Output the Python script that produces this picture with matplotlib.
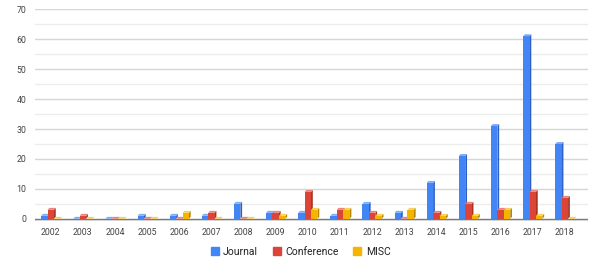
import matplotlib.pyplot as plt
from matplotlib.patches import Polygon
from matplotlib.lines import Line2D

years = [str(y) for y in range(2002, 2019)]
journal = [1, 0, 0, 1, 1, 1, 5, 2, 2, 1, 5, 2, 12, 21, 31, 61, 25]
conference = [3, 1, 0, 0, 0, 2, 0, 2, 9, 3, 2, 0, 2, 5, 3, 9, 7]
misc = [0, 0, 0, 0, 2, 0, 0, 1, 3, 3, 1, 3, 1, 1, 3, 1, 0]

series = [
    ("Journal", journal, "#4285F4", "#7FAAF7", "#2F5FC4"),
    ("Conference", conference, "#DB4437", "#E8847A", "#A8311F"),
    ("MISC", misc, "#F4B400", "#F8CF5A", "#B58600"),
]

plt.rcParams['font.family'] = ['Roboto', 'DejaVu Sans']

fig = plt.figure(figsize=(6, 2.63), dpi=100)
ax = fig.add_axes([34.7 / 600, 1 - 221.2 / 263, (588 - 34.7) / 600, (221.2 - 9.3) / 263])

ax.set_xlim(-0.5, 16.72)
ax.set_ylim(-0.8, 70)

# grid: darker every 10, lighter every 5
for v in range(5, 71, 5):
    ax.axhline(v, color="#d6d6d6" if v % 10 == 0 else "#ececec", lw=1, zorder=0)
ax.axhspan(-0.8, 0, color="#ebebeb", lw=0, zorder=0)
ax.axhline(0, color="#7a7a7a", lw=1, zorder=1)

w = 0.2
dx, dy = 0.055, 0.65
offsets = [-0.2, 0.0, 0.2]

for k, (name, vals, front, top, side) in enumerate(series):
    bars = ax.bar([i + offsets[k] for i in range(len(years))], vals, width=w,
                  color=front, lw=0, zorder=3 + 3 * k)
    for b in bars:
        x0 = b.get_x()
        x1 = x0 + b.get_width()
        h = b.get_height()
        ax.add_patch(Polygon([(x1, 0), (x1 + dx, dy), (x1 + dx, h + dy), (x1, h)],
                             closed=True, fc=side, lw=0, zorder=2 + 3 * k))
        ax.add_patch(Polygon([(x0, h), (x1, h), (x1 + dx, h + dy), (x0 + dx, h + dy)],
                             closed=True, fc=top, lw=0, zorder=4 + 3 * k))

ax.set_xticks(range(len(years)))
ax.set_xticklabels(years)
ax.set_yticks(range(0, 71, 10))
ax.tick_params(axis="both", length=0, labelsize=6.3, labelcolor="#444444")
ax.tick_params(axis="x", pad=5)
ax.tick_params(axis="y", pad=6)
for s in ax.spines.values():
    s.set_visible(False)

handles = [Line2D([], [], marker="s", ls="", markersize=6, color=c) for _, _, c, _, _ in series]
fig.legend(handles, [s[0] for s in series], loc="center", bbox_to_anchor=(0.5, 1 - 251.7 / 263),
           ncol=3, frameon=False, fontsize=7.5, handletextpad=0.3, columnspacing=1.3,
           handlelength=1.0, labelcolor="#222222")

fig.savefig("out.png", dpi=100)
